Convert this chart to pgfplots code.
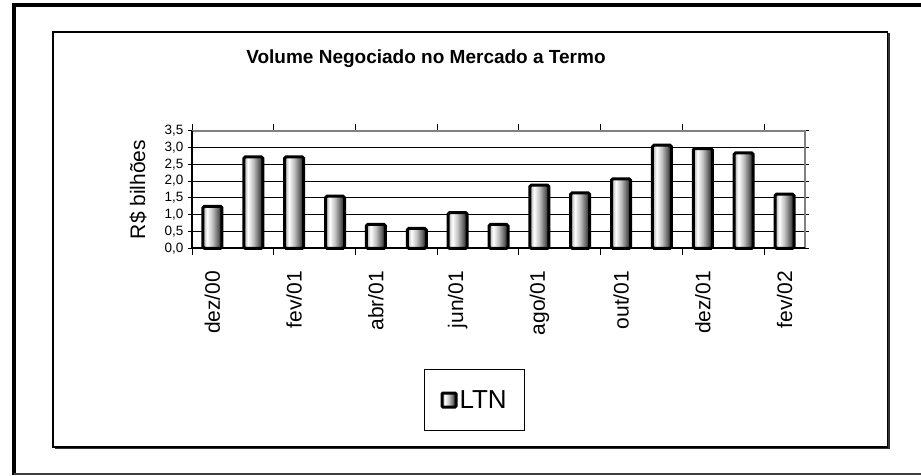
\documentclass[border=0pt]{standalone}
\usepackage{fontspec}
\setmainfont{Liberation Sans}
\usepackage{pgfplots}
\pgfplotsset{compat=1.18}
\pgfdeclarehorizontalshading{cyl}{100bp}{color(0bp)=(black!35); color(25bp)=(black!35); color(36bp)=(white); color(50bp)=(black!25); color(64bp)=(black!60); color(75bp)=(black!90); color(100bp)=(black!90)}
\pgfplotsset{cylbar/.style={draw=black, line width=3pt, shading=cyl, rounded corners=1.5pt, bar shift=0pt}}
\begin{document}
\begin{tikzpicture}[x=1pt,y=1pt]
\useasboundingbox (0,0) rectangle (921,475);
% outer frame
\draw[black, line width=3.5pt] (14,0) -- (14,470) -- (925,470);
\draw[black!75, line width=1.2pt] (14,1) -- (925,1);
% inner frame with shadow
\draw[black!80, line width=1.5pt] (55,26.5) -- (889,26.5) -- (889,441.5);
\draw[black, line width=1.3pt] (53,28) rectangle (887.5,443);
\begin{axis}[
  at={(192pt,226.7pt)}, anchor=south west,
  scale only axis, width=613pt, height=117.6pt,
  xmin=-0.5, xmax=14.5, ymin=0, ymax=3.5,
  ybar, bar width=19pt,
  axis line style={draw=none},
  xtick={0,2,...,14},
  xticklabels={dez/00,fev/01,abr/01,jun/01,ago/01,out/01,dez/01,fev/02},
  major x tick style={draw=none},
  minor xtick={-0.5,1.5,...,13.5},
  minor x tick style={black, line width=1pt},
  minor tick length=7pt,
  xtick align=outside, ytick align=outside,
  ytick={0,0.5,...,3.5},
  major y tick style={black, line width=1pt},
  major tick length=4pt,
  ymajorgrids, grid style={black, line width=0.9pt},
  /pgf/number format/.cd, fixed, fixed zerofill, precision=1, use comma, assume math mode=true,
  /pgfplots/.cd,
  yticklabel style={font=\fontsize{13.5}{15}\selectfont, xshift=-1pt},
  xticklabel style={rotate=90, anchor=east, font=\fontsize{21}{24}\selectfont, xshift=-15pt},
  ylabel={R\$ bilhões},
  ylabel style={at={(axis description cs:-0.088,0.5)}, anchor=center, font=\fontsize{21}{24}\selectfont},
  title={Volume Negociado no Mercado a Termo},
  title style={at={(axis description cs:0.3817,1)}, anchor=base, yshift=61pt, font=\fontsize{19}{22}\selectfont\bfseries},
  legend style={at={(0.461,-1.29)}, anchor=center, draw=black, line width=1.2pt, inner xsep=16pt, inner ysep=19pt, font=\fontsize{26}{28}\selectfont},
  legend image code/.code={\draw[#1, line width=3pt, rounded corners=1pt] (0pt,-7pt) rectangle (14pt,7pt);},
  clip=false,
]
\addplot[cylbar] coordinates {(0,1.25)};
\addlegendentry{LTN}
\addplot[cylbar, forget plot] coordinates {(1,2.72)};
\addplot[cylbar, forget plot] coordinates {(2,2.72)};
\addplot[cylbar, forget plot] coordinates {(3,1.55)};
\addplot[cylbar, forget plot] coordinates {(4,0.71)};
\addplot[cylbar, forget plot] coordinates {(5,0.59)};
\addplot[cylbar, forget plot] coordinates {(6,1.06)};
\addplot[cylbar, forget plot] coordinates {(7,0.71)};
\addplot[cylbar, forget plot] coordinates {(8,1.88)};
\addplot[cylbar, forget plot] coordinates {(9,1.65)};
\addplot[cylbar, forget plot] coordinates {(10,2.07)};
\addplot[cylbar, forget plot] coordinates {(11,3.07)};
\addplot[cylbar, forget plot] coordinates {(12,2.97)};
\addplot[cylbar, forget plot] coordinates {(13,2.84)};
\addplot[cylbar, forget plot] coordinates {(14,1.61)};
\draw[black!50, line width=2.2pt] (rel axis cs:0,1) -- (rel axis cs:1,1) -- (rel axis cs:1,0);
\draw[black, line width=2pt] (rel axis cs:0,1) -- (rel axis cs:0,0) -- (rel axis cs:1,0);
\end{axis}
\end{tikzpicture}
\end{document}
